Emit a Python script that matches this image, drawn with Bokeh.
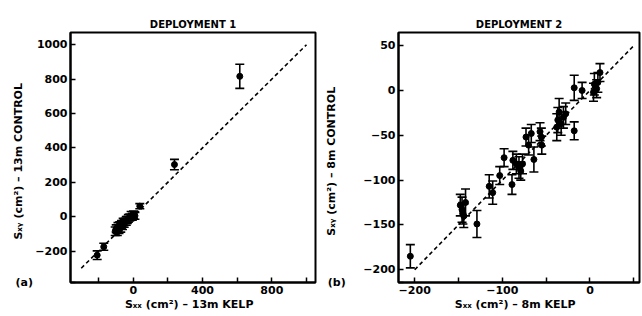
from bokeh.plotting import figure
from bokeh.layouts import row
from bokeh.models import ColumnDataSource, Whisker, TeeHead, FixedTicker, Range1d
from bokeh.embed import file_html
from bokeh.resources import INLINE

# ---------------- data ----------------
# Deployment 1: Sxx at 13m kelp vs 13m control (cm^2)
d1_kelp = [-208, -170, -104, -98, -92, -88, -82, -78, -72, -68, -62, -58, -52, -46,
           -40, -34, -28, -20, -12, -5, 2, 10, 38, 238, 615]
d1_control = [-224, -175, -85, -70, -90, -60, -75, -50, -65, -45, -55, -35, -40, -30,
              -25, -20, -10, -5, 5, 0, 10, 5, 61, 303, 816]
d1_err = [25, 20, 25, 22, 20, 25, 22, 20, 25, 22, 20, 25, 22, 20,
          25, 20, 22, 20, 25, 20, 22, 20, 15, 30, 70]

# Deployment 2: Sxx at 8m kelp vs 8m control (cm^2)
d2_kelp = [-205, -148, -146, -144, -142, -145, -129, -115, -111, -103,
           -98, -89, -88, -84, -81, -79, -77, -73, -70, -67,
           -64, -57, -55.5, -55, -37.9, -36.7, -35.2, -32.9, -30.3, -27.7,
           -18, -18, -9, 4, 5, 7.6, 9, 11.4]
d2_control = [-185, -128, -133, -140, -125, -137, -149, -107, -114, -95,
              -75, -105, -78, -82, -86, -90, -82, -52, -61, -48,
              -77, -46, -52, -61, -41, -33, -24, -37, -30, -26,
              -45, 3, 0, -2, 7, 2, 9, 20]
d2_err = [13, 12, 14, 13, 15, 12, 15, 13, 13, 10,
          10, 11, 10, 11, 12, 10, 11, 10, 11, 10,
          14, 10, 10, 10, 15, 14, 15, 13, 12, 12,
          10, 14, 9, 10, 12, 10, 11, 10]

# 1:1 reference lines
d1_line = [-300, 1000]
d2_line = [-200, 50]

# ticks (labelled / unlabelled)
d1_xlabeled = [0, 400, 800]
d1_xminor = [-200, 200, 600, 1000]
d1_yticks = [-200, 0, 200, 400, 600, 800, 1000]
d2_xlabeled = [-200, -100, 0]
d2_xminor = [-150, -50, 50]
d2_yticks = [-200, -150, -100, -50, 0, 50]

FONT = "DejaVu Sans"
NBSP = "\u00a0"


def fmt(v):
    return ("\u2212" + str(abs(v))) if v < 0 else str(v)


def make_panel(title, xs, ys, errs, line, xr, yr, xlabeled, xminor, yticks,
               xlabel, ylabel, tag, tag_pad, bl, br, ylab_stand):
    p = figure(width=321, height=316, output_backend="svg", toolbar_location=None,
               x_range=Range1d(*xr), y_range=Range1d(*yr),
               min_border_left=bl, min_border_right=br,
               min_border_top=32, min_border_bottom=34)
    p.title.text = title
    p.title.align = "center"
    p.title.text_font = FONT
    p.title.text_font_size = "10px"
    p.title.text_font_style = "bold"
    p.title.text_color = "black"
    p.title.standoff = 6
    p.grid.visible = False
    p.outline_line_color = "black"
    p.outline_line_width = 2
    p.outline_line_alpha = 1

    for ax in (p.xaxis[0], p.yaxis[0]):
        ax.axis_line_width = 2
        ax.major_tick_in = 5
        ax.major_tick_out = 0
        ax.major_tick_line_width = 1.5
        ax.minor_tick_in = 5
        ax.minor_tick_out = 0
        ax.minor_tick_line_width = 1.5
        ax.minor_tick_line_color = "black"
        ax.major_label_text_font = FONT
        ax.major_label_text_font_style = "bold"
        ax.major_label_text_font_size = "11px"
        ax.major_label_text_color = "black"
        ax.axis_label_text_font = FONT
        ax.axis_label_text_font_style = "bold"
        ax.axis_label_text_font_size = "11px"
        ax.axis_label_text_color = "black"
        ax.major_label_standoff = 3

    p.xaxis[0].ticker = FixedTicker(ticks=xlabeled, minor_ticks=xminor)
    p.xaxis[0].major_label_overrides = {t: fmt(t) for t in xlabeled}
    # panel tag "(a)"/"(b)" sits at the lower-left corner, level with the frame bottom
    ylab = {t: fmt(t) for t in yticks}
    ylab[yr[0]] = tag + NBSP * tag_pad
    p.yaxis[0].ticker = FixedTicker(ticks=[yr[0]] + yticks, minor_ticks=[])
    p.yaxis[0].major_label_overrides = ylab
    p.xaxis[0].axis_label = xlabel
    p.yaxis[0].axis_label = ylabel
    p.xaxis[0].axis_label_standoff = 1
    p.yaxis[0].axis_label_standoff = ylab_stand

    p.line(line, line, line_color="black", line_width=1.6, line_dash="4 3")

    src = ColumnDataSource(dict(x=xs, y=ys,
                                lo=[y - e for y, e in zip(ys, errs)],
                                hi=[y + e for y, e in zip(ys, errs)]))
    w = Whisker(source=src, base="x", upper="hi", lower="lo", dimension="height",
                line_color="black", line_width=1.6,
                upper_head=TeeHead(size=9, line_color="black", line_width=1.6),
                lower_head=TeeHead(size=9, line_color="black", line_width=1.6))
    p.add_layout(w)
    p.scatter("x", "y", source=src, size=6, color="black")
    return p


p1 = make_panel("DEPLOYMENT 1", d1_kelp, d1_control, d1_err, d1_line,
                (-362, 1052), (-383, 1071), d1_xlabeled, d1_xminor, d1_yticks,
                "S\u2093\u2093 (cm\u00b2)  \u2013  13m KELP",
                "S\u2093\u1d67 (cm\u00b2)  \u2013  13m CONTROL",
                "(a)", 9, 70, 6, -12)

p2 = make_panel("DEPLOYMENT 2", d2_kelp, d2_control, d2_err, d2_line,
                (-218.5, 56.5), (-214.3, 64.7), d2_xlabeled, d2_xminor, d2_yticks,
                "S\u2093\u2093 (cm\u00b2)  \u2013  8m KELP",
                "S\u2093\u1d67 (cm\u00b2)  \u2013  8m CONTROL",
                "(b)", 13, 76, 3, -13)

layout = row(p1, p2, spacing=0)
open("out.html", "w").write(file_html(layout, INLINE))
